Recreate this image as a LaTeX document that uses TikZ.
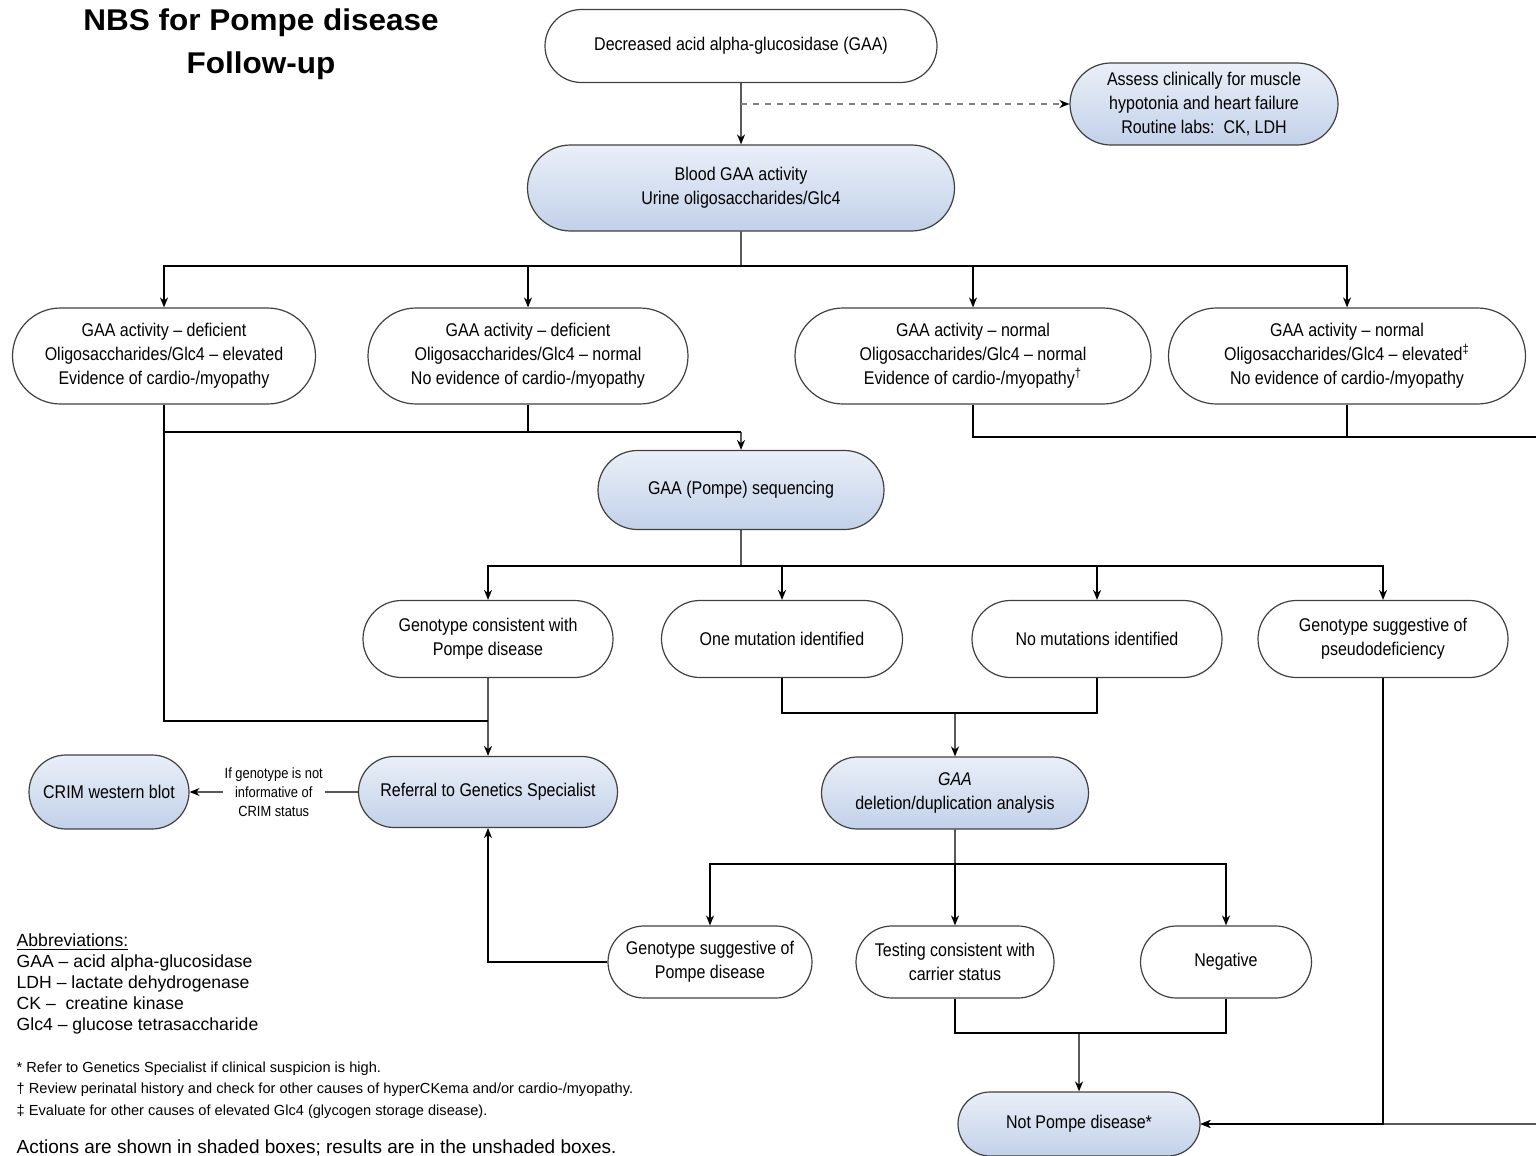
\documentclass[tikz,border=0pt]{standalone}
\usepackage{fontspec}
\setmainfont{Liberation Sans}
\newfontfamily\narrowfont{Liberation Sans}[Ligatures=TeX, FakeStretch=0.87]
\newfontfamily\titlefont{Liberation Sans}[Ligatures=TeX, FakeStretch=1.05]
\usetikzlibrary{shapes.misc,arrows.meta}
\definecolor{actiontop}{RGB}{234,239,248}
\definecolor{actionbottom}{RGB}{194,209,233}
\tikzset{%
  result box/.style={
    rounded rectangle,
    draw=black!75,
    line width=0.6pt,
    align=center,
    inner sep=0pt,
    font=\narrowfont\fontsize{9.2}{12}\selectfont
  },
  action box/.style={
    result box,
    top color=actiontop,
    bottom color=actionbottom
  },
  side note/.style={
    fill=white,
    align=center,
    inner sep=1pt,
    font=\narrowfont\fontsize{7.4}{9.5}\selectfont
  },
}

\begin{document}
\begin{tikzpicture}[x=0.5pt, y=-0.5pt, line width=0.7pt, >={Stealth[length=5pt,width=4pt]}]

  \useasboundingbox (0,0) rectangle (1536,1156);

  % Title
  \node [anchor=base, font=\titlefont\bfseries\fontsize{15}{18}\selectfont] (title-1) at (261,31) {NBS for Pompe disease};
  \node [anchor=base, font=\titlefont\bfseries\fontsize{15}{18}\selectfont] (title-2) at (261,74) {Follow-up};

  % Screening result and first actions
  \node [result box, minimum width=196pt, minimum height=36.5pt] (decreased) at (741,46) {Decreased acid alpha-glucosidase (GAA)};
  \node [action box, minimum width=134pt, minimum height=41pt] (assess) at (1204,104) {Assess clinically for muscle\\hypotonia and heart failure\\Routine labs:\ \ CK, LDH};
  \node [action box, minimum width=213.5pt, minimum height=43pt] (blood) at (741,188) {Blood GAA activity\\Urine oligosaccharides/Glc4};

  % Biochemical results
  \foreach \m/\x/\w/\l in {
      1/164/151.5/{GAA activity -- deficient\\Oligosaccharides/Glc4 -- elevated\\Evidence of cardio-/myopathy},
      2/528/160/{GAA activity -- deficient\\Oligosaccharides/Glc4 -- normal\\No evidence of cardio-/myopathy},
      3/973/178/{GAA activity -- normal\\Oligosaccharides/Glc4 -- normal\\Evidence of cardio-/myopathy\textsuperscript{\textdagger}},
      4/1347/178.5/{GAA activity -- normal\\Oligosaccharides/Glc4 -- elevated\textsuperscript{\textdaggerdbl}\\No evidence of cardio-/myopathy}}
    \node [result box, minimum width=\w pt, minimum height=48pt] (biochem-\m) at (\x,356) {\l};

  % Sequencing and genotype results
  \node [action box, minimum width=143pt, minimum height=39.5pt] (sequencing) at (741,490) {GAA (Pompe) sequencing};
  \foreach \m/\x/\w/\l in {
      1/488/125/{Genotype consistent with\\Pompe disease},
      2/782/120.5/{One mutation identified},
      3/1097/125/{No mutations identified},
      4/1383/125/{Genotype suggestive of\\pseudodeficiency}}
    \node [result box, minimum width=\w pt, minimum height=38.5pt] (geno-\m) at (\x,639) {\l};

  % Follow-up actions
  \node [action box, minimum width=129.5pt, minimum height=35.5pt] (referral) at (488,792) {Referral to Genetics Specialist};
  \node [action box, minimum width=80pt, minimum height=37pt] (crim) at (109,792) {CRIM western blot};
  \node [action box, minimum width=133.5pt, minimum height=36pt] (deletion) at (955,793) {\textit{GAA}\\deletion/duplication analysis};

  % Deletion/duplication results
  \foreach \m/\x/\w/\l in {
      1/710/102/{Genotype suggestive of\\Pompe disease},
      2/955/99/{Testing consistent with\\carrier status},
      3/1226/85.5/{Negative}}
    \node [result box, minimum width=\w pt, minimum height=36pt] (deldup-\m) at (\x,962) {\l};

  \node [action box, minimum width=121pt, minimum height=32pt] (notpompe) at (1079,1124) {Not Pompe disease*};

  % Junction points
  \coordinate (assess-start) at (741,104);
  \coordinate (split-1) at (741,266);
  \coordinate (merge-1) at (741,432);
  \coordinate (edge-top) at (1542,437);
  \coordinate (edge-bottom) at (1542,1124);
  \coordinate (split-2) at (741,566);
  \coordinate (merge-2) at (955,713);
  \coordinate (join-referral) at (488,721);
  \coordinate (split-3) at (955,864);
  \coordinate (merge-3) at (1079,1033);

  % Top part
  \draw [->] (decreased) -- (blood);
  \draw [-{Stealth[length=5pt,width=4pt,black]}, dashed, gray] (assess-start) -- (assess);
  \draw (blood) -- (split-1);
  \foreach \m in {1,...,4}
    \draw [->] (split-1) -| (biochem-\m);

  % Biochemical results to sequencing
  \draw (biochem-1) |- (merge-1);
  \draw (biochem-2) |- (merge-1);
  \draw [->] (merge-1) -- (sequencing);
  \draw (biochem-1) |- (join-referral);
  \draw (biochem-3) |- (edge-top);
  \draw (biochem-4) |- (edge-top);
  \draw [->] (edge-top) -- (edge-bottom) -- (notpompe);

  % Sequencing to genotype results
  \draw (sequencing) -- (split-2);
  \foreach \m in {1,...,4}
    \draw [->] (split-2) -| (geno-\m);
  \draw [->] (geno-1) -- (referral);
  \draw (geno-2) |- (merge-2);
  \draw (geno-3) |- (merge-2);
  \draw [->] (merge-2) -- (deletion);
  \draw [->] (geno-4) |- (notpompe);

  % CRIM status
  \draw [->] (referral) -- (crim)
    node [side note, midway] {If genotype is not\\informative of\\CRIM status};

  % Deletion/duplication to results
  \draw (deletion) -- (split-3);
  \foreach \m in {1,...,3}
    \draw [->] (split-3) -| (deldup-\m);
  \draw [->] (deldup-1) -| (referral);
  \draw (deldup-2) |- (merge-3);
  \draw (deldup-3) |- (merge-3);
  \draw [->] (merge-3) -- (notpompe);

  % Abbreviations
  \foreach \l [count=\i from 0] in {\underline{Abbreviations:}, GAA -- acid alpha-glucosidase, LDH -- lactate dehydrogenase, CK --\ \ creatine kinase, Glc4 -- glucose tetrasaccharide}
    \node [anchor=base west, inner sep=0pt, font=\fontsize{8.8}{10.5}\selectfont] (abbrev-\i) at (16,946+21*\i) {\l};

  % Footnotes
  \foreach \l [count=\i from 0] in {{* Refer to Genetics Specialist if clinical suspicion is high.}, {\textdagger\ Review perinatal history and check for other causes of hyperCKema and/or cardio-/myopathy.}, {\textdaggerdbl\ Evaluate for other causes of elevated Glc4 (glycogen storage disease).}}
    \node [anchor=base west, inner sep=0pt, font=\fontsize{7.3}{9}\selectfont] (note-\i) at (16,1072+21.5*\i) {\l};

  \node [anchor=base west, inner sep=0pt, font=\fontsize{9.5}{11}\selectfont] (legend) at (16,1153) {Actions are shown in shaded boxes; results are in the unshaded boxes.};

\end{tikzpicture}
\end{document}
